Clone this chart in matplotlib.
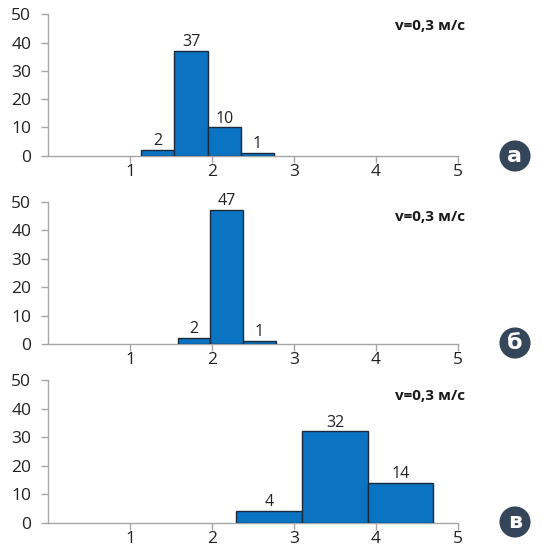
import matplotlib
matplotlib.use("Agg")
import matplotlib.pyplot as plt

# Data
edges_a = [1.14, 1.54, 1.95, 2.35, 2.76]
counts_a = [2, 37, 10, 1]
edges_b = [1.58, 1.98, 2.38, 2.78]
counts_b = [2, 47, 1]
edges_c = [2.29, 3.10, 3.90, 4.69]
counts_c = [4, 32, 14]
panel_letters = ["а", "б", "в"]
speed_label = "v=0,3 м/с"
x_ticks = [1, 2, 3, 4, 5]
y_ticks = [0, 10, 20, 30, 40, 50]

plt.rcParams['font.family'] = ['Open Sans', 'DejaVu Sans']

fig = plt.figure(figsize=(5.54, 5.47), dpi=100)
W, H = 554, 547
x0, x1 = 48, 458
panels = [
    (edges_a, counts_a, 155.7, 14.3, 0.92, 156),
    (edges_b, counts_b, 344.0, 201.7, 0.89, 343),
    (edges_c, counts_c, 522.7, 380.0, 0.89, 522),
]
bar_color = "#0a74c2"
edge_color = "#1c2a3c"
axis_color = "#a6a6a6"

for (edges, counts, ybot, ytop, ty, cy), letter in zip(panels, panel_letters):
    ax = fig.add_axes([x0 / W, 1 - ybot / H, (x1 - x0) / W, (ybot - ytop) / H])
    lefts = edges[:-1]
    widths = [b - a for a, b in zip(edges[:-1], edges[1:])]
    bars = ax.bar(lefts, counts, width=widths, align='edge', color=bar_color,
                  edgecolor=edge_color, linewidth=1.0, zorder=3)
    for rect, c in zip(bars, counts):
        ax.text(rect.get_x() + rect.get_width() / 2, rect.get_height() + 0.3, str(c),
                ha='center', va='bottom', fontsize=11.5, color='#222222')
    ax.set_xlim(0, 5)
    ax.set_ylim(0, 50)
    ax.set_xticks(x_ticks)
    ax.set_yticks(y_ticks)
    ax.tick_params(axis='both', colors=axis_color, labelcolor='#222222',
                   labelsize=12.5, length=5, width=1)
    ax.tick_params(axis='y', pad=7)
    ax.tick_params(axis='x', pad=1)
    for s in ['top', 'right']:
        ax.spines[s].set_visible(False)
    for s in ['left', 'bottom']:
        ax.spines[s].set_color(axis_color)
        ax.spines[s].set_linewidth(1)
    ax.patch.set_alpha(0)
    ax.text(1.017, ty, speed_label, transform=ax.transAxes, ha='right', va='center',
            fontsize=11, fontweight='bold', color='#1a1a1a')
    fig.text(515 / W, 1 - cy / H, letter, ha='center', va='center', fontsize=16,
             fontweight='bold', color='white', family=['DejaVu Sans'],
             bbox=dict(boxstyle='circle,pad=0.25', facecolor='#35465a', edgecolor='none'))

fig.savefig("out.png", dpi=100)
